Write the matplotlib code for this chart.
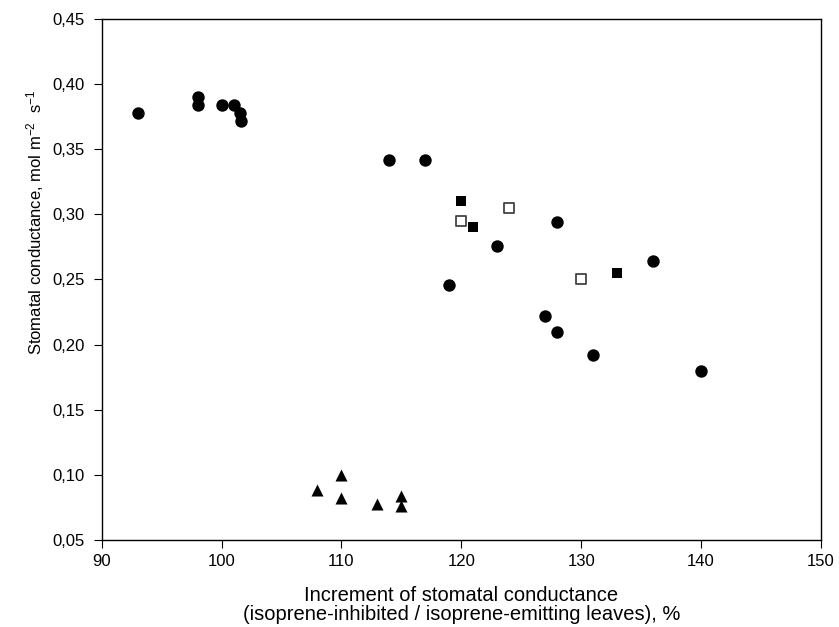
import matplotlib
matplotlib.use("Agg")
import matplotlib.pyplot as plt
from matplotlib.ticker import FuncFormatter

plt.rcParams['font.family'] = ['Liberation Sans', 'DejaVu Sans']
plt.rcParams['mathtext.default'] = 'regular'

# Filled circles
circ_x = [93, 98, 98, 100, 101, 101.5, 101.6, 114, 117, 119, 123, 128, 127, 128, 131, 136, 140]
circ_y = [0.378, 0.390, 0.384, 0.384, 0.384, 0.378, 0.372, 0.342, 0.342, 0.246, 0.276, 0.294,
          0.222, 0.210, 0.192, 0.264, 0.180]

# Filled squares
sqf_x = [120, 121, 133]
sqf_y = [0.310, 0.290, 0.255]

# Open squares
sqo_x = [120, 124, 130]
sqo_y = [0.295, 0.305, 0.250]

# Triangles
tri_x = [108, 110, 110, 113, 115, 115]
tri_y = [0.088, 0.100, 0.082, 0.078, 0.084, 0.076]

fig = plt.figure(figsize=(8.39, 6.27), dpi=100)
ax = fig.add_axes([0.1212, 0.1388, 0.8573, 0.8309])

ax.scatter(circ_x, circ_y, marker='o', s=80, color='black', linewidth=0, zorder=3)
ax.scatter(sqf_x, sqf_y, marker='s', s=62, color='black', linewidth=0, zorder=3)
ax.scatter(sqo_x, sqo_y, marker='s', s=55, facecolor='white', edgecolor='#444444', linewidth=1.3, zorder=3)
ax.scatter(tri_x, tri_y, marker='^', s=75, color='black', linewidth=0, zorder=3)

ax.set_xlim(90, 150)
ax.set_ylim(0.05, 0.45)
ax.set_xticks(range(90, 151, 10))
ax.set_yticks([0.05 + 0.05 * i for i in range(9)])
ax.yaxis.set_major_formatter(FuncFormatter(lambda v, p: f"{v:.2f}".replace('.', ',')))

ax.tick_params(direction='out', length=6, labelsize=12, top=False, right=False)
ax.tick_params(axis='y', pad=6)
ax.tick_params(axis='x', pad=4)
for sp in ax.spines.values():
    sp.set_linewidth(1.0)

ax.set_xlabel("Increment of stomatal conductance\n(isoprene-inhibited / isoprene-emitting leaves), %",
              fontsize=14.5, labelpad=12, linespacing=1.05)
ax.set_ylabel("Stomatal conductance, mol m$^{-2}$  s$^{-1}$", fontsize=12)
ax.yaxis.set_label_coords(-0.078, 0.61)

fig.savefig("out.png", dpi=100)
